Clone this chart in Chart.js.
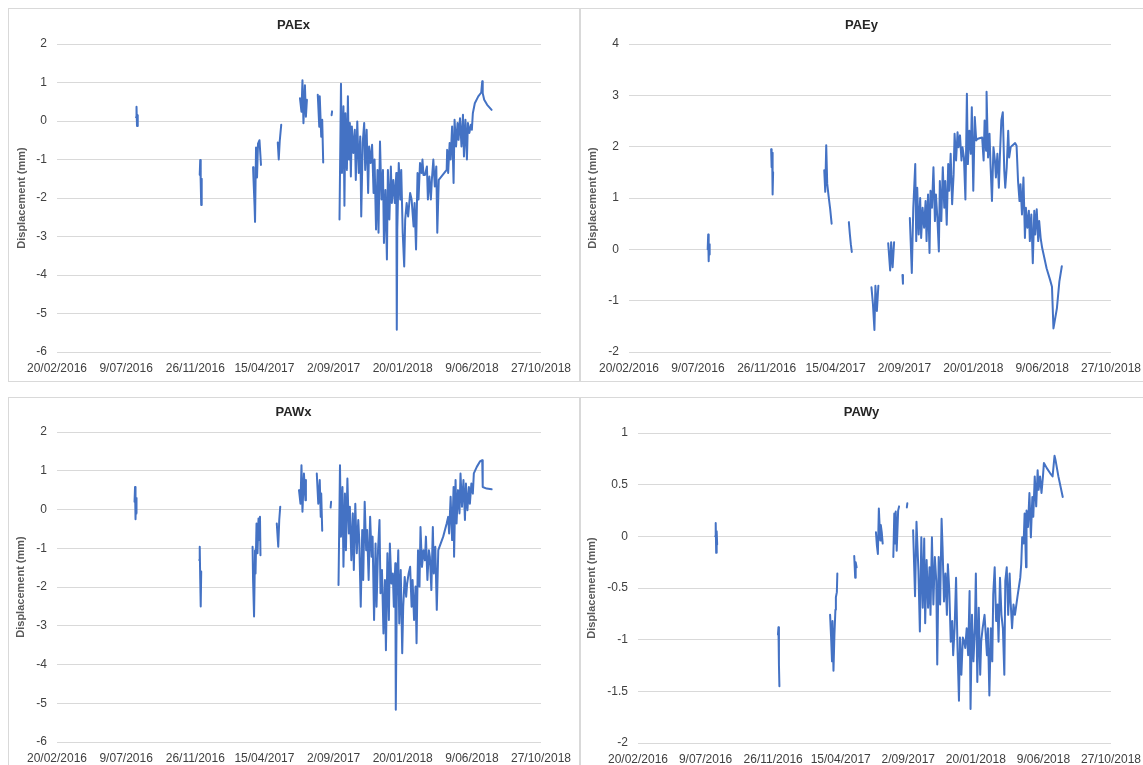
<!DOCTYPE html>
<html>
<head>
<meta charset="utf-8">
<script src="https://cdn.jsdelivr.net/npm/chart.js@4.4.1/dist/chart.umd.min.js"></script>
<style>
  body { margin: 0; background: #fff; width: 1143px; height: 765px; overflow: hidden; position: relative; }
  .frame { position: absolute; border: 1px solid #d9d9d9; box-sizing: border-box; }
  canvas { position: absolute; }
</style>
</head>
<body>
<div class="frame" style="left:8px;top:8px;width:572px;height:374px"></div>
<div class="frame" style="left:580px;top:8px;width:570px;height:374px"></div>
<div class="frame" style="left:8px;top:397px;width:572px;height:380px"></div>
<div class="frame" style="left:580px;top:397px;width:570px;height:380px"></div>
<canvas id="c1" width="571" height="373" style="left:8px;top:8px"></canvas>
<canvas id="c2" width="563" height="373" style="left:580px;top:8px"></canvas>
<canvas id="c3" width="571" height="368" style="left:8px;top:397px"></canvas>
<canvas id="c4" width="563" height="368" style="left:580px;top:397px"></canvas>
<script>
// x = days since 20/02/2016, ticks every 140 days
const xTickLabels = ['20/02/2016', '9/07/2016', '26/11/2016', '15/04/2017', '2/09/2017', '20/01/2018', '9/06/2018', '27/10/2018'];

// PAEx
const paexDays = [
  160,161,162,163,164, 230,
  289,290,291,292,293, 350,
  397,398,400,401,403,405,407,410,413, 430,
  447,449,451,454, 470,
  492,495,497,499,502,504,506, 517,
  528,531,532,535,537,539, 548,
  556,557, 563,
  572,575,577,580,582,584,587,589,591,593,
  595,597,600,603,605,608,611,614,616,619,
  622,624,627,630,632,635,638,641,643,646,
  649,651,654,657,660,662,665,668,670,673,
  676,678,681,684,687,688,689,692,695,697,
  700,703,705,708,711,715,718,722,724,727,
  730,732,735,738,740,742,745,749,751,754,
  757,759,762,765,768,770,773,789,790,792,
  795,797,800,803,805,808,811,813,816,819,
  822,824,827,830,832,835,838,840,842,846,
  853,859,861,862,865,871,880
];
const paexValues = [
  0.1,0.37,-0.13,0.15,0.0, null,
  -1.4,-1.01,-1.6,-2.18,-1.5, null,
  -1.2,-1.55,-2.2,-2.62,-0.69,-1.47,-0.59,-0.5,-1.14, null,
  -0.56,-1.0,-0.52,-0.1, null,
  0.59,0.24,1.06,-0.06,0.93,0.11,0.55, null,
  0.68,-0.15,0.64,-0.41,0.03,-1.08, null,
  0.15,0.25, null,
  -2.56,0.97,-1.35,0.38,-2.2,0.2,-1.27,0.64,-1.0,-0.05,
  -1.44,-0.14,-0.83,-0.23,-1.53,-0.01,-1.35,-0.4,-2.48,-0.57,
  -0.05,-1.27,-0.23,-1.87,-0.66,-1.09,-0.62,-1.87,-1.0,-2.82,
  -1.27,-2.9,-0.53,-2.04,-1.27,-3.17,-1.79,-3.6,-1.27,-2.56,
  -1.18,-2.13,-1.53,-2.13,-1.35,-5.42,-2.82,-1.09,-2.04,-1.27,
  -2.9,-3.78,-2.56,-2.13,-2.48,-1.87,-2.04,-2.74,-2.13,-3.34,
  -1.35,-2.04,-1.09,-1.35,-1.0,-1.4,-1.4,-1.18,-2.04,-1.44,
  -2.04,-1.53,-1.0,-1.7,-1.18,-2.9,-1.53,-1.27,-0.75,-1.35,
  -0.57,-1.0,-0.14,-1.61,0.03,-0.66,-0.05,-0.49,0.07,-0.66,
  0.16,-0.92,0.03,-1.0,-0.05,-0.31,-0.1,-0.23,0.2,0.46,
  0.64,0.74,1.03,0.72,0.55,0.42,0.29
];

// PAEy
const paeyDays = [
  160,161,162,163,164, 230,
  289,290,291,292,293, 350,
  397,399,401,403,406,409,412, 430,
  447,449,451,453, 470,
  493,496,499,501,504,507, 517,
  527,531,533,536,539, 548,
  556,557, 563,
  571,575,578,582,584,586,589,592,594,597,
  600,603,605,608,611,613,616,619,622,624,
  627,630,632,635,638,641,643,646,649,651,
  654,657,660,662,665,668,670,673,676,678,
  681,684,687,689,692,695,697,700,703,706,
  708,714,718,721,723,726,727,730,733,735,
  738,741,744,746,749,752,754,757,760,763,
  765,768,771,773,776,779,785,788,791,794,
  796,799,802,805,807,810,813,815,818,821,
  824,826,829,832,834,837,840,843,849,856,
  860,862,863,870,875,880
];
const paeyValues = [
  0.0,0.29,-0.23,0.1,-0.1, null,
  1.95,1.6,1.88,1.07,1.5, null,
  1.54,1.12,2.03,1.28,1.02,0.79,0.5, null,
  0.53,0.3,0.1,-0.05, null,
  -0.74,-1.07,-1.57,-0.71,-1.2,-0.71, null,
  0.12,-0.41,0.14,-0.35,0.14, null,
  -0.5,-0.67, null,
  0.61,-0.46,0.81,1.66,0.16,1.2,0.29,1.0,0.22,0.81,
  0.42,0.94,0.16,1.07,-0.07,1.14,0.81,1.6,0.55,1.07,
  0.61,-0.04,1.33,0.55,1.6,0.81,1.33,0.48,1.66,1.14,
  1.86,0.88,1.46,2.25,1.73,2.28,1.99,2.22,1.73,1.99,
  1.79,0.97,3.03,1.66,2.31,1.86,2.77,1.14,2.58,2.12,
  2.15,2.17,2.18,1.73,2.51,1.92,3.07,1.79,2.25,1.66,
  0.94,1.99,1.73,1.4,1.86,1.2,1.79,2.51,2.67,1.53,
  1.2,1.6,2.31,1.79,1.99,2.02,2.07,2.02,1.33,0.94,
  1.27,0.68,1.4,0.22,0.81,0.42,0.75,0.16,0.68,-0.27,
  0.75,0.29,0.78,0.16,0.55,0.22,0.03,-0.1,-0.37,-0.59,
  -0.73,-1.28,-1.54,-1.15,-0.63,-0.33
];

// PAWx
const pawxDays = [
  157,158,159,160,161, 230,
  288,289,290,291,292, 350,
  396,397,399,401,402,404,406,408,409,411,412, 430,
  445,448,450,452, 470,
  490,493,495,497,500,503,504, 515,
  526,529,532,534,535,537, 546,
  554,555, 562,
  570,573,575,578,580,583,585,588,591,593,
  596,599,601,604,607,610,612,615,618,620,
  623,626,628,631,634,637,639,642,645,647,
  650,653,655,658,661,664,666,669,672,674,
  677,680,682,685,686,688,691,693,696,699,
  701,704,707,709,712,715,718,720,723,726,
  728,731,734,736,739,742,745,747,750,753,
  755,758,761,763,766,769,772,782,789,792,
  794,797,800,803,804,807,809,812,815,817,
  820,823,826,828,831,834,836,839,842,844,
  850,857,861,862,870,880
];
const pawxValues = [
  0.2,0.58,-0.25,0.3,-0.1, null,
  -1.3,-0.96,-1.8,-2.5,-1.6, null,
  -0.96,-1.82,-2.76,-1.05,-1.65,-0.36,-1.13,-0.23,-0.79,-0.19,-1.18, null,
  -0.36,-0.96,-0.27,0.07, null,
  0.5,0.15,1.14,-0.06,0.93,0.24,0.76, null,
  0.93,0.15,0.76,-0.19,0.41,-0.55, null,
  0.05,0.2, null,
  -1.95,1.14,-0.7,0.58,-1.48,0.41,-1.05,0.8,-0.62,0.07,
  -1.31,-0.1,-1.56,0.15,-1.13,-0.27,-0.79,-2.51,-0.53,-1.82,
  0.2,-1.05,-0.53,-1.82,-0.19,-1.22,-0.7,-2.85,-0.88,-2.51,
  -1.05,-0.27,-2.16,-1.56,-3.2,-1.82,-3.63,-1.13,-2.85,-0.88,
  -1.91,-1.65,-2.51,-1.39,-5.17,-2.25,-1.05,-2.94,-1.56,-3.71,
  -2.51,-1.74,-2.25,-1.91,-1.65,-1.48,-2.51,-1.82,-2.85,-1.99,
  -3.45,-1.05,-1.99,-0.45,-1.48,-1.05,-1.31,-0.7,-1.82,-1.05,
  -1.22,-2.08,-0.45,-1.65,-0.96,-2.59,-1.05,-0.7,-0.36,-0.19,
  -0.62,0.33,-0.79,0.58,-1.22,0.76,-0.36,0.5,-0.1,0.93,
  0.07,0.76,-0.27,0.67,-0.02,0.58,0.15,0.67,0.41,0.93,
  1.1,1.25,1.27,0.58,0.54,0.52
];

// PAWy
const pawyDays = [
  160,161,162,163,164, 230,
  290,291,292,293, 350,
  398,400,402,403,405,407,409,410,412,413, 430,
  448,450,451,453, 470,
  493,495,497,499,502,503,505,507, 517,
  529,531,533,534,536,539,541, 549,
  557,558, 564,
  570,574,577,581,584,587,590,593,595,598,
  601,604,606,609,612,615,618,620,623,626,
  629,631,634,637,640,642,645,648,651,653,
  656,659,662,665,667,670,673,676,678,681,
  684,687,689,692,695,698,700,703,706,709,
  711,714,718,723,725,728,731,734,736,739,
  742,745,747,750,753,756,759,761,764,767,
  770,772,775,778,781,786,792,794,796,799,
  801,804,805,808,811,814,817,819,822,825,
  828,830,833,836,839,841,847,854,859,863,
  865,871,880
];
const pawyValues = [
  0.0,0.13,-0.16,0.05,-0.08, null,
  -0.95,-0.88,-1.24,-1.45, null,
  -0.76,-0.97,-1.21,-0.82,-1.3,-0.95,-0.71,-0.59,-0.54,-0.36, null,
  -0.19,-0.4,-0.25,-0.3, null,
  0.04,-0.09,-0.17,0.27,-0.04,0.11,0.04,-0.07, null,
  -0.2,0.22,-0.07,0.24,-0.14,0.25,0.29, null,
  0.28,0.32, null,
  0.06,-0.58,0.14,-0.33,-0.92,-0.01,-0.69,-0.02,-0.84,-0.23,
  -0.69,-0.3,-0.76,-0.01,-0.66,-0.2,-0.43,-1.24,-0.2,-0.66,
  0.17,-0.1,-0.63,-0.36,-0.76,-0.27,-0.53,-1.02,-0.82,-1.15,
  -0.89,-0.4,-1.08,-1.59,-0.98,-1.34,-0.98,-1.02,-1.08,-0.89,
  -1.15,-0.53,-1.67,-0.76,-1.21,-0.89,-0.36,-1.41,-0.69,-1.34,
  -1.02,-0.89,-0.76,-1.15,-0.89,-1.54,-0.89,-1.21,-0.56,-0.3,
  -0.82,-0.66,-1.02,-0.4,-0.76,-0.89,-1.34,-0.43,-0.3,-0.76,
  -0.36,-0.63,-0.89,-0.66,-0.76,-0.59,-0.4,-0.27,-0.01,-0.07,
  0.22,-0.3,0.25,0.09,0.42,-0.01,0.38,0.19,0.58,0.29,
  0.64,0.45,0.58,0.42,0.58,0.71,0.66,0.61,0.58,0.78,
  0.74,0.58,0.38
];

const FONT = '"Liberation Sans", Arial, sans-serif';

// draws the chart title inside the panel
const panelTitle = {
  id: 'panelTitle',
  afterDraw(chart, args, opts) {
    const ctx = chart.ctx;
    ctx.save();
    ctx.font = 'bold 13px ' + FONT;
    ctx.fillStyle = '#262626';
    ctx.textAlign = 'center';
    ctx.textBaseline = 'middle';
    ctx.fillText(opts.text, chart.width / 2, opts.y);
    ctx.restore();
  }
};

function makeChart(id, title, days, values, yMin, yMax, yStep, g) {
  const pts = days.map((d, i) => ({ x: d, y: values[i] }));
  new Chart(document.getElementById(id), {
    type: 'line',
    data: {
      datasets: [{
        data: pts,
        borderColor: '#4472C4',
        borderWidth: 2,
        pointRadius: 0,
        tension: 0,
        spanGaps: false,
        borderJoinStyle: 'round',
        borderCapStyle: 'round'
      }]
    },
    plugins: [panelTitle],
    options: {
      responsive: false,
      animation: false,
      devicePixelRatio: 1,
      layout: { padding: { left: 0, top: g.top, right: g.right, bottom: 0 } },
      plugins: {
        legend: { display: false },
        tooltip: { enabled: false },
        panelTitle: { text: title, y: g.titleY }
      },
      scales: {
        x: {
          type: 'linear',
          min: 0,
          max: 980,
          afterFit(scale) {
            scale.height = g.xh;
            scale.paddingLeft = 0;
            scale.paddingRight = 0;
          },
          grid: { display: false, drawTicks: false },
          border: { display: false },
          ticks: {
            stepSize: 140,
            autoSkip: false,
            maxRotation: 0,
            padding: 9,
            color: '#404040',
            font: { family: FONT, size: 12 },
            callback: (v) => xTickLabels[Math.round(v / 140)]
          }
        },
        y: {
          min: yMin,
          max: yMax,
          afterFit(scale) { scale.width = g.yw; },
          grid: { color: '#d9d9d9', lineWidth: 1, drawTicks: false },
          border: { display: false },
          ticks: {
            stepSize: yStep,
            padding: 10,
            color: '#404040',
            font: { family: FONT, size: 12 },
            callback: (v) => String(Math.round(v * 10) / 10)
          },
          title: {
            display: true,
            text: 'Displacement (mm)',
            color: '#595959',
            font: { family: FONT, size: 11, weight: 'bold' },
            padding: { top: g.tp, bottom: 0 }
          }
        }
      }
    }
  });
}

makeChart('c1', 'PAEx', paexDays, paexValues, -6, 2, 1, { top: 36, right: 38, xh: 29, yw: 49, titleY: 17, tp: 7 });
makeChart('c2', 'PAEy', paeyDays, paeyValues, -2, 4, 1, { top: 36, right: 32, xh: 29, yw: 49, titleY: 17, tp: 6 });
makeChart('c3', 'PAWx', pawxDays, pawxValues, -6, 2, 1, { top: 35, right: 38, xh: 23, yw: 49, titleY: 15, tp: 6 });
makeChart('c4', 'PAWy', pawyDays, pawyValues, -2, 1, 0.5, { top: 36, right: 32, xh: 22, yw: 58, titleY: 15, tp: 5 });
</script>
</body>
</html>
